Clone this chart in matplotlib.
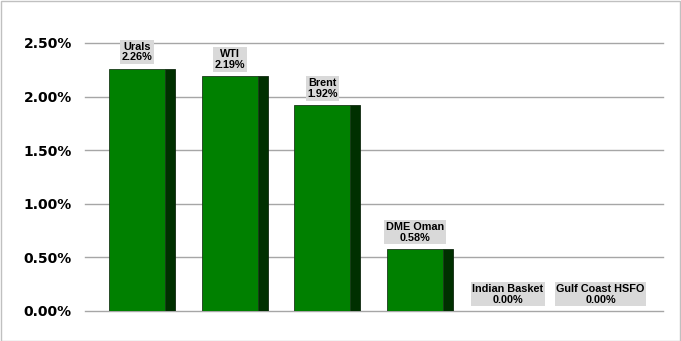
import matplotlib.pyplot as plt
from matplotlib.patches import Rectangle
from matplotlib.ticker import FuncFormatter
import numpy as np

# data
grades = ['Urals', 'WTI', 'Brent', 'DME Oman', 'Indian Basket', 'Gulf Coast HSFO']
changes = [2.26, 2.19, 1.92, 0.58, 0.00, 0.00]  # percent
y_ticks = [0.0, 0.5, 1.0, 1.5, 2.0, 2.5]

fig = plt.figure(figsize=(6.81, 3.41), dpi=100)
ax = fig.add_axes([85 / 681, 1 - 311 / 341, 578 / 681, 268 / 341])

x = np.arange(len(grades))
front_w = 0.604
side_w = 0.108

# fake 3d bars: front face plus darker side face
ax.bar(x + front_w / 2 + side_w / 2, changes, width=side_w, color='#003000',
       edgecolor='#102810', linewidth=0.6, zorder=3)
ax.bar(x, changes, width=front_w, color='#008000',
       edgecolor='#1a3a1a', linewidth=0.6, zorder=4)

for i, v in enumerate(changes):
    ax.annotate(f'{grades[i]}\n{v:.2f}%', xy=(x[i], v), xytext=(0, 4.5),
                textcoords='offset points', ha='center', va='bottom',
                fontsize=7.8, fontweight='bold', family='Liberation Sans',
                linespacing=1.12, annotation_clip=False, zorder=6,
                bbox=dict(boxstyle='square,pad=0.15', fc='#d9d9d9', ec='none'))

ax.set_xlim(-0.561, 5.674)
ax.set_ylim(0, 2.5)
ax.set_yticks(y_ticks)
ax.yaxis.set_major_formatter(FuncFormatter(lambda v, p: f'{v:.2f}%'))
ax.set_xticks([])
ax.tick_params(axis='y', length=0, pad=9.5, labelsize=10)
for lbl in ax.get_yticklabels():
    lbl.set_fontweight('bold')

ax.grid(axis='y', color='#a6a6a6', linewidth=1.0, zorder=0)
for ln in ax.get_ygridlines():
    ln.set_clip_on(False)
ax.set_axisbelow(True)
for s in ax.spines.values():
    s.set_visible(False)

# light frame around the whole chart
fig.patches.append(Rectangle((0.5 / 681, 0.5 / 341), 1 - 1.5 / 681, 1 - 1.5 / 341,
                             transform=fig.transFigure, fill=False,
                             edgecolor='#c0c0c0', linewidth=1.0))

fig.savefig('out.png', dpi=100)
